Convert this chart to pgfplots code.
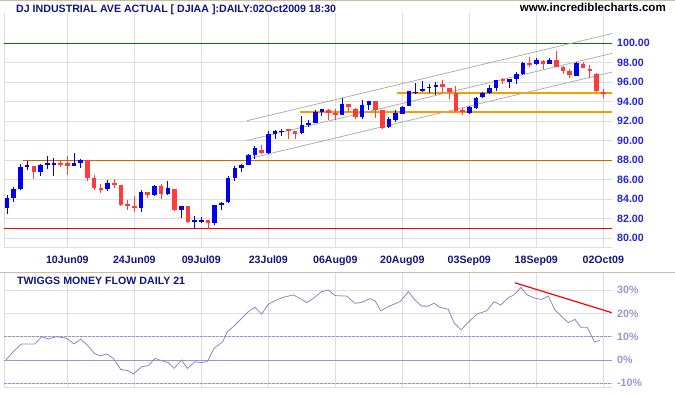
\documentclass[border=0pt]{standalone}
\usepackage{fontspec}
\setmainfont{Liberation Sans}
\usepackage{pgfplots}
\usepackage{pgfplotstable}
\pgfplotsset{compat=1.18}

\definecolor{navy}{RGB}{20,20,128}
\definecolor{ylab}{RGB}{35,35,225}
\definecolor{lav}{RGB}{150,150,210}
\definecolor{tmf}{RGB}{136,136,200}
\definecolor{gridc}{RGB}{221,221,221}
\definecolor{tanc}{RGB}{200,190,160}
\definecolor{cblue}{RGB}{0,0,240}
\definecolor{cred}{RGB}{255,60,60}
\definecolor{dgreen}{RGB}{0,128,0}
\definecolor{dorange}{RGB}{204,102,0}
\definecolor{orange2}{RGB}{255,153,0}
\definecolor{chan}{RGB}{175,175,175}

\newcommand\lab{\fontsize{10.67}{12}\selectfont\bfseries}

% up candles: index open high low close
\pgfplotstableread{
i o h l c
0 83.11 84.41 82.46 84.13
1 84.13 85.26 83.72 85.03
2 85.03 87.59 85.00 87.31
3 87.31 87.90 87.05 87.52
5 86.80 87.66 86.36 87.52
6 87.55 88.41 87.15 87.70
7 87.58 88.27 86.40 87.72
10 87.41 88.79 87.38 87.72
11 87.72 88.10 87.21 88.00
15 85.10 85.95 84.85 85.67
20 83.11 84.92 82.70 84.75
22 84.48 85.43 84.37 85.33
24 84.51 85.85 84.45 85.16
26 82.87 83.30 82.08 83.28
28 81.68 82.26 81.00 81.83
29 81.72 82.19 81.61 81.87
31 81.57 83.40 81.33 83.38
32 83.45 83.73 82.87 83.62
33 83.73 86.36 83.65 86.19
34 86.19 87.38 85.85 87.21
35 87.21 87.66 86.80 87.49
36 87.56 88.68 87.50 88.51
37 88.51 89.44 88.10 89.26
39 88.79 90.97 88.68 90.74
40 90.74 91.08 90.23 90.97
41 90.90 91.25 90.46 91.05
44 90.80 92.51 90.75 91.59
45 91.59 92.10 91.42 91.83
46 91.83 93.13 91.80 92.95
47 92.95 93.26 92.51 93.23
50 92.69 94.39 92.60 93.74
53 92.44 94.23 92.28 93.64
54 93.64 94.10 93.20 94.05
57 91.42 92.44 91.35 92.21
58 92.10 93.13 91.95 92.85
59 92.76 93.61 92.70 93.51
60 93.61 95.14 93.54 95.07
61 94.90 95.88 94.80 95.05
62 95.07 96.15 95.00 95.31
63 95.40 95.88 94.87 95.55
64 95.48 96.05 94.70 95.75
69 92.83 93.54 92.70 93.44
70 93.37 94.46 93.27 94.39
71 94.46 94.97 94.40 94.90
72 94.90 95.75 94.80 95.41
73 95.41 96.25 95.07 96.22
75 96.03 96.35 95.41 96.31
76 96.31 97.07 95.86 96.83
77 96.83 98.10 96.80 98.00
79 97.86 98.45 97.80 98.28
81 97.93 98.45 97.83 98.34
85 96.66 98.10 96.60 98.00
}\upc

% down candles: index open high low close
\pgfplotstableread{
i o h l c
4 87.38 87.40 86.05 86.80
8 87.72 88.07 87.31 87.58
9 87.72 88.41 86.50 87.41
12 88.00 88.05 85.88 86.19
13 86.19 86.46 85.00 85.16
14 85.16 85.61 84.65 85.02
16 85.67 86.12 85.20 85.50
17 85.47 85.50 83.35 83.42
18 83.56 83.90 82.87 83.35
19 83.31 84.31 82.70 83.11
21 84.75 84.78 84.17 84.48
23 85.33 85.61 84.00 84.51
25 85.03 85.06 82.80 82.87
27 83.28 83.30 81.57 81.67
30 81.85 81.90 81.00 81.57
38 89.10 89.54 88.68 88.79
42 91.18 91.25 90.23 91.03
43 90.97 91.00 90.23 90.74
48 93.13 93.23 92.10 92.85
49 92.85 93.23 92.17 92.69
51 93.74 93.80 92.95 93.47
52 93.30 93.35 92.28 92.44
55 94.05 94.10 92.34 93.20
56 93.13 93.15 91.18 91.35
65 95.82 96.22 94.90 95.48
66 95.41 95.45 94.29 94.97
67 94.90 95.60 92.93 93.10
68 93.17 93.34 92.70 92.93
74 96.31 96.48 95.86 96.14
78 97.95 98.55 97.59 97.80
80 98.17 98.28 97.34 97.93
82 98.34 99.21 97.55 97.59
83 97.59 97.66 96.83 97.17
84 97.14 97.34 96.45 96.79
86 97.93 98.10 97.45 97.48
87 97.41 97.76 96.48 97.17
88 96.90 96.95 95.05 95.10
89 95.03 95.34 94.41 94.88
}\downc

\pgfplotsset{
  wick/.style={draw=none, mark=none, forget plot,
    error bars/.cd, y dir=both, y explicit, error mark=none,
    error bar style={draw=#1, line width=1bp, solid}},
  body/.style={draw=none, mark=none, forget plot,
    error bars/.cd, y dir=both, y explicit, error mark=none,
    error bar style={draw=#1, fill=none, line width=4.6bp, solid}},
}

\begin{document}
\begin{tikzpicture}
\useasboundingbox (0,0) rectangle (675bp,-395bp);

% ---------------- upper panel ----------------
\begin{axis}[
  at={(4bp,-247bp)}, anchor=south west,
  scale only axis, width=608bp, height=234bp,
  xmin=-0.45, xmax=90.3, ymin=79.11, ymax=103.11,
  axis line style={draw=none},
  xtick={9,19,...,89},
  xticklabels={10Jun09,24Jun09,09Jul09,23Jul09,06Aug09,20Aug09,03Sep09,18Sep09,02Oct09},
  ytick={80,82,...,100},
  yticklabels={80.00,82.00,84.00,86.00,88.00,90.00,92.00,94.00,96.00,98.00,100.00},
  yticklabel pos=right,
  grid=major, major grid style={draw=gridc, line width=0.8bp},
  major tick length=0pt, tick style={draw=none},
  xticklabel style={anchor=base, yshift=-16.3bp, inner sep=0pt, text=navy, font=\lab},
  yticklabel style={anchor=west, xshift=5bp, inner sep=0pt, text=ylab, font=\lab},
]
\draw[gridc, line width=0.8bp] (rel axis cs:0,1) -- (rel axis cs:0,0) -- (rel axis cs:1,0) -- (rel axis cs:1,1);
% support / resistance lines
\addplot[dgreen, line width=1.2bp] coordinates {(-0.45,100) (90.3,100)};
\addplot[dorange, line width=1.2bp] coordinates {(2.4,88) (90.3,88)};
\addplot[red, line width=1.2bp] coordinates {(-0.45,80.98) (90.3,80.98)};
\addplot[orange2, line width=1.2bp] coordinates {(58.2,94.9) (90.3,94.9)};
\addplot[orange2, line width=1.2bp] coordinates {(43.7,92.95) (90.3,92.95)};
% trend channel
\addplot[chan, line width=0.8bp] coordinates {(35.8,92.06) (90.3,101.0)};
\addplot[chan, line width=0.8bp] coordinates {(35.8,90.03) (90.3,98.97)};
\addplot[chan, line width=0.8bp] coordinates {(36.3,88.21) (90.3,97.05)};
% candles
\addplot[wick=cblue] table[x=i, y expr=(\thisrow{h}+\thisrow{l})/2, y error expr=(\thisrow{h}-\thisrow{l})/2]{\upc};
\addplot[wick=cred] table[x=i, y expr=(\thisrow{h}+\thisrow{l})/2, y error expr=(\thisrow{h}-\thisrow{l})/2]{\downc};
\addplot[body=cblue] table[x=i, y expr=(\thisrow{o}+\thisrow{c})/2, y error expr=abs(\thisrow{c}-\thisrow{o})/2]{\upc};
\addplot[body=cred] table[x=i, y expr=(\thisrow{o}+\thisrow{c})/2, y error expr=abs(\thisrow{c}-\thisrow{o})/2]{\downc};
\end{axis}

% ---------------- lower panel ----------------
\begin{axis}[
  at={(4bp,-387.3bp)}, anchor=south west,
  scale only axis, width=608bp, height=114.3bp,
  xmin=-0.45, xmax=90.3, ymin=-11.7, ymax=37.29,
  axis line style={draw=none},
  xtick={9,19,...,89}, xticklabels={},
  ytick={-10,0,...,30},
  yticklabels={-10\%,0\%,10\%,20\%,30\%},
  yticklabel pos=right,
  grid=major, major grid style={draw=gridc, line width=0.8bp},
  major tick length=0pt, tick style={draw=none},
  yticklabel style={anchor=west, xshift=5bp, inner sep=0pt, text=lav, font=\lab},
]
\draw[gridc, line width=0.8bp] (rel axis cs:0,1) -- (rel axis cs:0,0) -- (rel axis cs:1,0) -- (rel axis cs:1,1);
\addplot[lav, line width=0.9bp, dash pattern=on 2.5bp off 1.5bp] coordinates {(-0.45,10) (90.3,10)};
\addplot[lav, line width=0.9bp] coordinates {(-0.45,0) (90.3,0)};
\addplot[lav, line width=0.9bp, dash pattern=on 2.5bp off 1.5bp] coordinates {(-0.45,-10) (90.3,-10)};
\addplot[tmf, line width=0.8bp] coordinates {
(-0.15,0) (0.94,3.6) (2.19,6.9) (4.18,6.9) (5.18,10.0) (6.16,9.0) (7.42,10.0) (8.91,9.3)
(10.0,6.9) (11.0,8.9) (11.99,6.4) (12.99,2.9) (13.88,1.7) (14.88,2.6) (15.87,0.7) (16.97,-4.0)
(18.1,-4.6) (18.85,-6.0) (20.1,-2.9) (21.09,-2.4) (22.09,0.7) (23.09,-0.3) (24.07,-1.1) (24.93,-3.6)
(26.07,0) (26.91,-3.6) (28.06,-0.7) (28.91,-1.1) (29.9,-0.7) (30.9,5.0) (32.19,7.9) (32.88,12.1)
(33.78,14.3) (35.03,17.9) (36.01,20.7) (37.01,22.6) (38.01,19.7) (39.0,23.9) (40.0,25.4) (41.24,26.9)
(42.73,27.9) (43.73,26.4) (44.73,24.6) (45.72,26.4) (46.97,29.3) (47.96,30.0) (48.96,27.6) (50.7,27.4)
(51.94,24.3) (52.94,24.7) (54.18,26.3) (54.93,25.4) (55.78,21.1) (56.91,22.9) (58.66,25.0) (59.9,29.3)
(60.9,25.7) (61.9,23.1) (62.88,23.1) (63.73,24.3) (64.63,22.6) (65.87,21.7) (66.72,16.0) (67.76,12.9)
(68.7,15.7) (70.1,19.6) (71.6,21.1) (72.69,25.0) (73.69,23.6) (74.82,26.7) (75.67,27.9) (76.72,31.1)
(77.66,27.9) (78.81,26.4) (79.81,26.0) (80.79,27.4) (81.79,21.4) (83.78,16.0) (84.78,17.4) (85.63,14.0)
(86.61,14.0) (87.66,7.9) (88.51,8.3)
};
\addplot[red, line width=1.2bp] coordinates {(75.8,33.1) (90.25,20.3)};
\end{axis}

% panel separators and titles
\draw[tanc, line width=1.4bp] (0,-0.7bp) -- (675bp,-0.7bp);
\draw[tanc, line width=1.4bp] (0,-272.6bp) -- (675bp,-272.6bp);
\node[anchor=base west, inner sep=0pt, text=navy, font=\lab] at (16bp,-12bp)
  {DJ INDUSTRIAL AVE ACTUAL [ DJIAA ]:DAILY:02Oct2009 18:30};
\node[anchor=base east, inner sep=0pt, font=\fontsize{11.6}{13}\selectfont\bfseries] at (666bp,-11.7bp)
  {www.incrediblecharts.com};
\node[anchor=base west, inner sep=1bp, fill=white, text=navy, font=\lab] at (16bp,-284bp)
  {TWIGGS MONEY FLOW DAILY 21};
\end{tikzpicture}
\end{document}
